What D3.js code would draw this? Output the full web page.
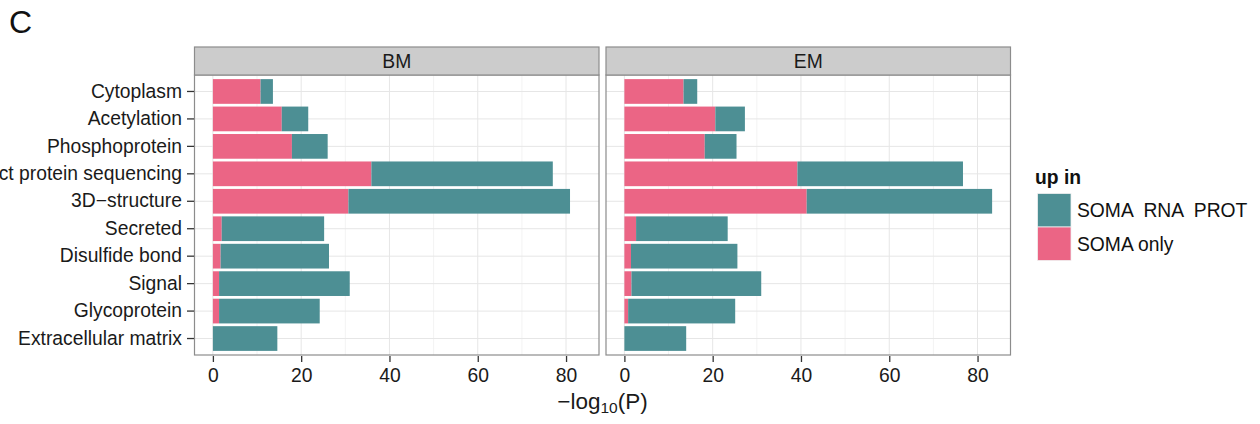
<!DOCTYPE html>
<html>
<head>
<meta charset="utf-8">
<script src="https://cdn.jsdelivr.net/npm/d3@7"></script>
<style>
  html, body { margin: 0; padding: 0; background: #fff; overflow: hidden; }
  svg { display: block; font-family: "Liberation Sans", Arial, Helvetica, sans-serif; }
</style>
</head>
<body>
<svg id="chart" width="1260" height="424"></svg>
<script>
// GO / keyword terms, top to bottom
const terms = [
  "Cytoplasm", "Acetylation", "Phosphoprotein", "Direct protein sequencing",
  "3D\u2212structure", "Secreted", "Disulfide bond", "Signal", "Glycoprotein",
  "Extracellular matrix"
];
const panels = ["BM", "EM"];
const groups = ["SOMA only", "SOMA  RNA  PROT"];
const legendOrder = ["SOMA  RNA  PROT", "SOMA only"];

// -log10(P), stacked segments per term
const bmSomaOnly = [10.8, 15.6, 17.9, 35.9, 30.7, 2.0, 1.75, 1.4, 1.4, 0];
const bmSomaRnaProt = [2.8, 6.0, 8.1, 41.1, 50.2, 23.2, 24.55, 29.6, 22.8, 14.6];
const emSomaOnly = [13.4, 20.6, 18.2, 39.2, 41.3, 2.65, 1.5, 1.6, 0.85, 0];
const emSomaRnaProt = [3.1, 6.7, 7.2, 37.5, 42.0, 20.75, 24.1, 29.4, 24.25, 14.0];

const xTicks = [0, 20, 40, 60, 80];
const xMinor = [10, 30, 50, 70];

const colors = { "SOMA only": "#eb6585", "SOMA  RNA  PROT": "#4d8f94" };

const panelData = {
  BM: terms.map((t, i) => ({ term: t, "SOMA only": bmSomaOnly[i], "SOMA  RNA  PROT": bmSomaRnaProt[i] })),
  EM: terms.map((t, i) => ({ term: t, "SOMA only": emSomaOnly[i], "SOMA  RNA  PROT": emSomaRnaProt[i] }))
};

const svg = d3.select("#chart");
const labelSize = 19.3;

// layout
const stripTop = 47, stripH = 28;
const plotTop = stripTop + stripH, plotBottom = 355;
const panelW = 404.5;
const panelX = { BM: 194.5, EM: 606 };

// shared x domain with 5% expansion on each side
const maxTotal = d3.max(panels, p => d3.max(panelData[p], d => groups.reduce((s, g) => s + d[g], 0)));
const pad = maxTotal * 0.05;

const y = d3.scaleBand()
  .domain(terms)
  .range([plotTop, plotBottom])
  .paddingInner(0.1)
  .paddingOuter(0.15);

const stack = d3.stack().keys(groups);

panels.forEach(p => {
  const x0 = panelX[p];
  const x = d3.scaleLinear().domain([-pad, maxTotal + pad]).range([x0, x0 + panelW]);
  const g = svg.append("g");

  // panel background
  g.append("rect")
    .attr("x", x0).attr("y", plotTop)
    .attr("width", panelW).attr("height", plotBottom - plotTop)
    .attr("fill", "#fff");

  // minor grid
  g.selectAll(".gminor").data(xMinor).enter().append("line")
    .attr("x1", d => x(d)).attr("x2", d => x(d))
    .attr("y1", plotTop).attr("y2", plotBottom)
    .attr("stroke", "#f3f3f3").attr("stroke-width", 1);
  // major grid
  g.selectAll(".gmajor").data(xTicks).enter().append("line")
    .attr("x1", d => x(d)).attr("x2", d => x(d))
    .attr("y1", plotTop).attr("y2", plotBottom)
    .attr("stroke", "#e6e6e6").attr("stroke-width", 1);
  g.selectAll(".gy").data(terms).enter().append("line")
    .attr("x1", x0).attr("x2", x0 + panelW)
    .attr("y1", d => y(d) + y.bandwidth() / 2).attr("y2", d => y(d) + y.bandwidth() / 2)
    .attr("stroke", "#e6e6e6").attr("stroke-width", 1);

  // stacked bars
  const series = stack(panelData[p]);
  series.forEach(s => {
    g.selectAll(null).data(s).enter().append("rect")
      .attr("x", d => x(d[0]))
      .attr("width", d => Math.max(0, x(d[1]) - x(d[0])))
      .attr("y", d => y(d.data.term))
      .attr("height", y.bandwidth())
      .attr("fill", colors[s.key]);
  });

  // panel border
  g.append("rect")
    .attr("x", x0).attr("y", plotTop)
    .attr("width", panelW).attr("height", plotBottom - plotTop)
    .attr("fill", "none").attr("stroke", "#8c8c8c").attr("stroke-width", 1.2);

  // strip
  g.append("rect")
    .attr("x", x0).attr("y", stripTop)
    .attr("width", panelW).attr("height", stripH)
    .attr("fill", "#cccccc").attr("stroke", "#8c8c8c").attr("stroke-width", 1.2);
  g.append("text")
    .attr("x", x0 + panelW / 2).attr("y", stripTop + stripH / 2)
    .attr("dy", "0.36em").attr("text-anchor", "middle")
    .attr("font-size", labelSize).attr("fill", "#1a1a1a")
    .text(p);

  // x axis
  const xAxis = d3.axisBottom(x).tickValues(xTicks).tickSize(6).tickPadding(6).tickFormat(d3.format("d"));
  const ax = g.append("g").attr("transform", `translate(0,${plotBottom + 1})`).call(xAxis);
  ax.select(".domain").remove();
  ax.selectAll(".tick line").attr("stroke", "#333").attr("stroke-width", 1.3);
  ax.selectAll(".tick text").attr("font-size", labelSize).attr("fill", "#1a1a1a")
    .attr("font-family", "Liberation Sans, Arial, sans-serif");
});

// y axis (left of first panel)
const yAxis = d3.axisLeft(y).tickSize(7).tickPadding(5);
const ay = svg.append("g").attr("transform", `translate(${panelX.BM - 0.5},0)`).call(yAxis);
ay.select(".domain").remove();
ay.selectAll(".tick line").attr("stroke", "#333").attr("stroke-width", 1.3);
ay.selectAll(".tick text").attr("font-size", labelSize).attr("fill", "#1a1a1a")
  .attr("font-family", "Liberation Sans, Arial, sans-serif");

// x axis title
const title = svg.append("text")
  .attr("x", (panelX.BM + panelX.EM + panelW) / 2).attr("y", 409)
  .attr("text-anchor", "middle").attr("font-size", 22.5).attr("fill", "#1a1a1a");
title.append("tspan").text("\u2212log");
title.append("tspan").attr("font-size", 15.5).attr("dy", 4).text("10");
title.append("tspan").attr("dy", -4).text("(P)");

// panel letter
svg.append("text").attr("x", 9).attr("y", 33)
  .attr("font-size", 32).attr("fill", "#111").text("C");

// legend
const lg = svg.append("g").attr("transform", "translate(1037,0)");
lg.append("text").attr("x", -2).attr("y", 184)
  .attr("font-size", labelSize).attr("font-weight", "bold").attr("fill", "#111").text("up in");
legendOrder.forEach((k, i) => {
  const ky = 193.5 + i * 33.5;
  lg.append("rect").attr("x", 0.5).attr("y", ky).attr("width", 33.5).attr("height", 33.5)
    .attr("fill", colors[k]).attr("stroke", "#f0f0f0").attr("stroke-width", 0.8);
  lg.append("text").attr("x", 40).attr("y", ky + 16.75).attr("dy", "0.36em")
    .attr("font-size", labelSize).attr("fill", "#111")
    .style("white-space", "pre").attr("xml:space", "preserve").text(k);
});
</script>
</body>
</html>
